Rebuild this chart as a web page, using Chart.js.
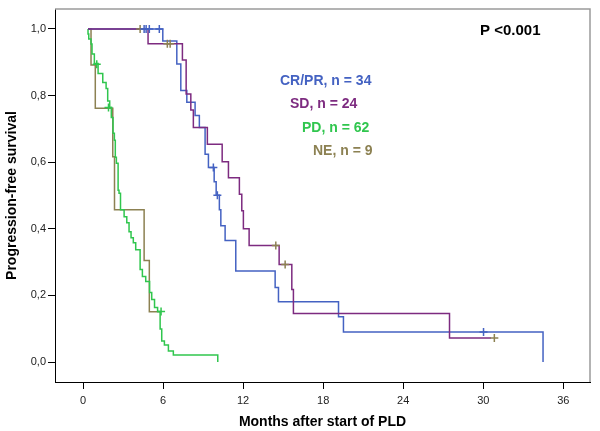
<!DOCTYPE html>
<html>
<head>
<meta charset="utf-8">
<script src="https://cdn.jsdelivr.net/npm/chart.js@4.4.1/dist/chart.umd.min.js"></script>
<style>
  html, body { margin: 0; padding: 0; background: #fff; }
  #wrap { width: 600px; height: 431px; }
</style>
</head>
<body>
<div id="wrap"><canvas id="km" width="600" height="431"></canvas></div>
<script>
/* ---------------- DATA (months, survival) ---------------- */
const xTicks = [0, 6, 12, 18, 24, 30, 36];
const yTicks = [0, 0.2, 0.4, 0.6, 0.8, 1.0];

const groupNames = ["CR/PR, n = 34", "SD, n = 24", "PD, n = 62", "NE, n = 9"];

// CR/PR
const crTime = [0.375, 5.98, 7.03, 7.33, 7.78, 8.4, 8.72, 9.15, 9.4, 9.83, 9.98, 10.22, 10.33, 10.65, 11.45, 14.4, 14.65, 19.15, 19.52, 34.48];
const crSurv = [1.0, 0.964, 0.895, 0.815, 0.780, 0.740, 0.704, 0.624, 0.584, 0.541, 0.501, 0.457, 0.409, 0.365, 0.273, 0.224, 0.181, 0.136, 0.090, 0.0];
const crCensTime = [4.58, 4.73, 4.97, 5.72, 9.77, 10.07, 30.02];
const crCensSurv = [1, 1, 1, 1, 0.584, 0.501, 0.090];

// SD
const sdTime = [0.375, 4.875, 7.45, 7.73, 8.08, 8.27, 9.32, 10.43, 10.9, 11.72, 11.9, 12.02, 12.45, 14.7, 15.65, 15.77, 27.47, 30.58];
const sdSurv = [1.0, 0.956, 0.907, 0.805, 0.757, 0.704, 0.654, 0.601, 0.553, 0.504, 0.454, 0.400, 0.350, 0.293, 0.218, 0.146, 0.072, 0.072];
const sdCensTime = [4.28, 6.32, 6.53, 14.45, 15.15, 30.83];
const sdCensSurv = [1, 0.956, 0.956, 0.350, 0.293, 0.072];

// PD
const pdTime = [0.375, 0.375, 0.43, 0.6, 0.675, 0.85, 1.13, 1.48, 1.73, 1.85, 2.0, 2.12, 2.25, 2.35, 2.42, 2.5, 2.63, 2.7, 2.81, 3.08, 3.28, 3.45, 3.6, 3.77, 3.95, 4.28, 4.45, 4.7, 4.99, 5.15, 5.36, 5.59, 5.78, 5.9, 6.1, 6.4, 6.77, 10.1];
const pdSurv = [1.0, 0.985, 0.970, 0.955, 0.925, 0.896, 0.866, 0.839, 0.821, 0.784, 0.764, 0.734, 0.687, 0.666, 0.615, 0.597, 0.516, 0.507, 0.457, 0.436, 0.418, 0.391, 0.373, 0.358, 0.337, 0.278, 0.257, 0.242, 0.209, 0.188, 0.164, 0.152, 0.099, 0.063, 0.051, 0.033, 0.021, 0.0];
const pdCensTime = [1.03, 1.91, 5.85];
const pdCensSurv = [0.894, 0.764, 0.152];

// NE
const neTime = [0.375, 0.6, 0.92, 2.23, 2.36, 4.58, 4.97, 5.78];
const neSurv = [1.0, 0.892, 0.762, 0.616, 0.457, 0.305, 0.151, 0.151];

/* ---------------- STYLE ---------------- */
const BLUE = "#4462c2";
const PURPLE = "#7d2b80";
const GREEN = "#30c64e";
const OLIVE = "#8c8152";

const pts = (t, s) => t.map((v, i) => ({ x: v, y: s[i] }));

function curve(label, t, s, color, order) {
    return {
        label, data: pts(t, s), borderColor: color, borderWidth: 1.5,
        stepped: "before", pointRadius: 0, fill: false, order
    };
}
function censor(label, t, s, color) {
    return {
        label, data: pts(t, s), showLine: false, borderColor: color,
        pointStyle: "cross", pointRadius: 4, pointBorderWidth: 1.5, order: 0
    };
}

/* ---------------- TEXT + FRAME PLUGIN ---------------- */
const annotations = {
    id: "annotations",
    afterDraw(chart) {
        const { ctx, chartArea: a } = chart;
        ctx.save();
        ctx.strokeStyle = "#9a9a9a";
        ctx.lineWidth = 1.5;
        ctx.beginPath();
        ctx.moveTo(a.left, a.top);
        ctx.lineTo(a.right, a.top);
        ctx.lineTo(a.right, a.bottom);
        ctx.stroke();

        ctx.textBaseline = "middle";
        ctx.textAlign = "left";
        ctx.font = "bold 15px 'Liberation Sans', Arial, sans-serif";
        ctx.fillStyle = "#000";
        ctx.fillText("P <0.001", 480, 31);

        ctx.font = "bold 14px 'Liberation Sans', Arial, sans-serif";
        const labelPos = [[280, 81], [290, 104], [302, 128], [313, 151]];
        const labelCol = [BLUE, PURPLE, GREEN, OLIVE];
        groupNames.forEach((g, i) => {
            ctx.fillStyle = labelCol[i];
            ctx.fillText(g, labelPos[i][0], labelPos[i][1]);
        });
        ctx.restore();
    }
};

/* ---------------- DRAW ---------------- */
const tickFont = { family: "'Liberation Sans', Arial, sans-serif", size: 11 };
const titleFont = { family: "'Liberation Sans', Arial, sans-serif", size: 14, weight: "bold" };

new Chart(document.getElementById("km"), {
    type: "line",
    data: {
        datasets: [
            censor("CR/PR censored", crCensTime, crCensSurv, BLUE),
            censor("SD censored", sdCensTime, sdCensSurv, OLIVE),
            censor("PD censored", pdCensTime, pdCensSurv, GREEN),
            curve(groupNames[1], sdTime, sdSurv, PURPLE, 1),
            curve(groupNames[0], crTime, crSurv, BLUE, 2),
            curve(groupNames[2], pdTime, pdSurv, GREEN, 3),
            curve(groupNames[3], neTime, neSurv, OLIVE, 4)
        ]
    },
    options: {
        responsive: false,
        animation: false,
        devicePixelRatio: 1,
        layout: { padding: { top: 9, right: 10, left: 0, bottom: 0 } },
        plugins: { legend: { display: false }, tooltip: { enabled: false } },
        scales: {
            x: {
                type: "linear", min: -2.1, max: 38,
                afterBuildTicks: s => { s.ticks = xTicks.map(v => ({ value: v })); },
                afterFit: s => { s.height = 49; },
                grid: { drawOnChartArea: false, drawTicks: true, tickLength: 7, color: "#000" },
                border: { display: true, color: "#000", width: 1 },
                ticks: { font: tickFont, color: "#222", padding: 5, maxRotation: 0 },
                title: { display: true, text: "Months after start of PLD", font: titleFont, color: "#000", padding: { top: 4, bottom: 0 } }
            },
            y: {
                type: "linear", min: -0.06, max: 1.06,
                afterBuildTicks: s => { s.ticks = yTicks.map(v => ({ value: v })); },
                afterFit: s => { s.width = 55; },
                grid: { drawOnChartArea: false, drawTicks: true, tickLength: 7, color: "#000" },
                border: { display: true, color: "#000", width: 1 },
                ticks: { font: tickFont, color: "#222", padding: 2, callback: v => v.toFixed(1).replace(".", ",") },
                title: { display: true, text: "Progression-free survival", font: titleFont, color: "#000", padding: { bottom: 2 } }
            }
        }
    },
    plugins: [annotations]
});
</script>
</body>
</html>
